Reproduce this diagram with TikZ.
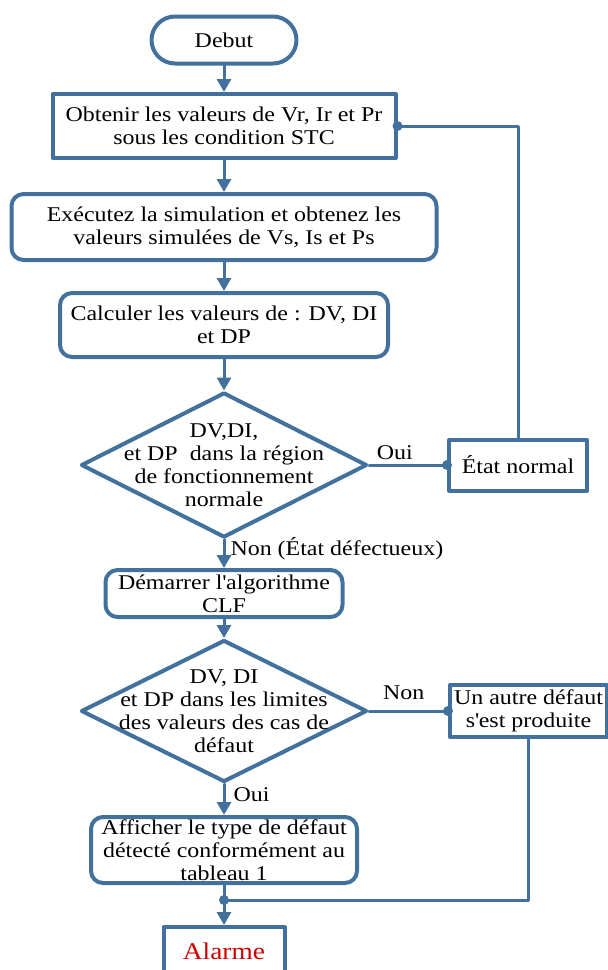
\documentclass[tikz,border=0pt]{standalone}
\usepackage{fontspec}
\setmainfont[FakeStretch=1.14]{Liberation Serif}
\usepackage{xcolor}
\usepackage{tikz}
\usetikzlibrary{arrows.meta,shapes.geometric,shapes.misc,calc}

\definecolor{flowblue}{RGB}{65,113,156}
\definecolor{alarmred}{RGB}{204,0,0}

\tikzset{
  txt/.style={font=\fontsize{21}{23}\selectfont, align=center},
  lbl/.style={txt, inner sep=0pt},
  box/.style={txt, draw=flowblue, line width=4pt, inner sep=0pt},
  rbox/.style={box, rounded corners=12pt},
  term/.style={box, rounded rectangle},
  test/.style={draw=flowblue, line width=4pt, diamond, inner sep=0pt},
  link/.style={draw=flowblue, line width=3pt},
}

\begin{document}
\begin{tikzpicture}[x=1pt,y=-1pt,line cap=round,line join=round,>={Triangle[width=14pt,length=13pt]}]
\useasboundingbox (0,0) rectangle (608,970);
% colonne principale
\node[term,minimum width=145pt,minimum height=47pt] (debut) at (224,40) {Debut};
\node[box,minimum width=343pt,minimum height=64pt] (mesure) at (224,126) {Obtenir les valeurs de Vr, Ir et Pr\\sous les condition STC};
\node[rbox,minimum width=425pt,minimum height=66pt] (simul) at (224,227) {Exécutez la simulation et obtenez les\\valeurs simulées de Vs, Is et Ps};
\node[rbox,minimum width=328pt,minimum height=64pt] (calcul) at (224,325) {Calculer les valeurs de : DV, DI\\et DP};
\node[test,minimum width=286pt,minimum height=145pt] (test1) at (224,465) {};
\node[txt] (test1txt) at (test1) {DV,DI,\\et DP~~dans la région\\de fonctionnement\\normale};
\node[rbox,minimum width=237pt,minimum height=47pt] (algo) at (224,593.5) {Démarrer l\textquotesingle algorithme\\CLF};
\node[test,minimum width=286pt,minimum height=142pt] (test2) at (224,711) {};
\node[txt] (test2txt) at (test2) {DV, DI\\et DP dans les limites\\des valeurs des cas de\\défaut};
\node[rbox,minimum width=266pt,minimum height=66pt] (affiche) at (224,850) {Afficher le type de défaut\\détecté conformément au\\tableau 1};
\node[box,minimum width=121pt,minimum height=48pt,text=alarmred,font=\fontsize{24}{26}\selectfont] (alarme) at (224,951) {Alarme};
% branches a droite
\node[box,minimum width=138pt,minimum height=51pt] (etat) at (518,465) {État normal};
\node[box,minimum width=157pt,minimum height=52pt] (autre) at (528.5,711) {Un autre défaut\\s\textquotesingle est produite};

\draw[link,->] (debut) -- (mesure);
\draw[link,->] (mesure) -- (simul);
\draw[link,->] (simul) -- (calcul);
\draw[link,->] (calcul) -- (test1);
\draw[link,->] (test1) -- node[lbl,pos=0.33,right=5pt] (non1) {Non (État défectueux)} (algo);
\draw[link,->] (algo) -- (test2);
\draw[link,->] (test2) -- node[lbl,pos=0.34,right=8pt] (oui2) {Oui} (affiche);

\draw[link] (test1.east) -- node[lbl,pos=0.33,above=4pt] (oui1) {Oui} (etat.west);
\fill[flowblue] (etat.west) circle (5pt);
\draw[link] (etat.north) |- (mesure.east);
\fill[flowblue] (mesure.east) circle (5pt);

\draw[link] (test2.east) -- node[lbl,pos=0.44,above=10pt] (non2) {Non} (autre.west);
\fill[flowblue] (autre.west) circle (5pt);

\coordinate (jonction) at (224,900);
\draw[link] (autre.south) |- (jonction);
\fill[flowblue] (jonction) circle (5pt);
\draw[link,->] (affiche) -- (alarme);
\end{tikzpicture}
\end{document}
